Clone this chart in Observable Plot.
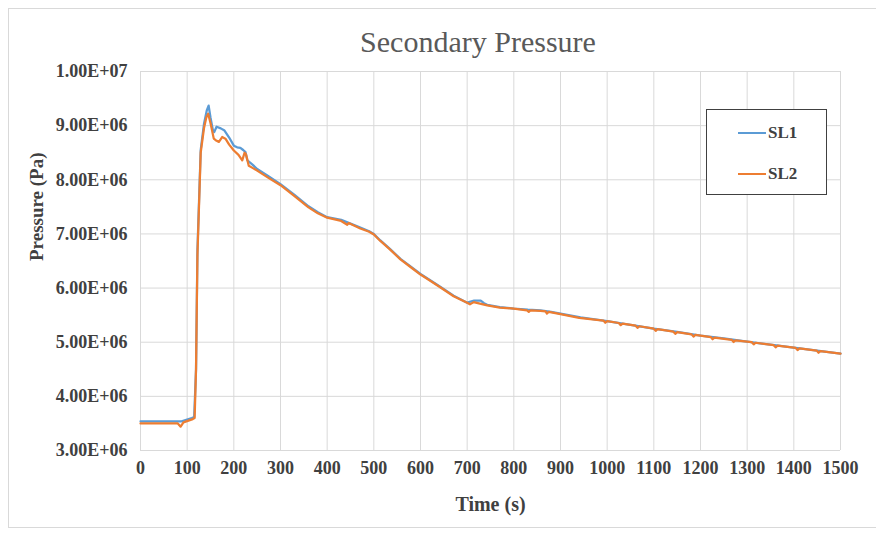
<!DOCTYPE html>
<html>
<head>
<meta charset="utf-8">
<script src="https://cdn.jsdelivr.net/npm/d3@7"></script>
<script src="https://cdn.jsdelivr.net/npm/@observablehq/plot@0.6"></script>
<style>
  html, body { margin: 0; padding: 0; background: #fff; }
  #wrap { position: relative; width: 876px; height: 533px; overflow: hidden; }
  #frame { position: absolute; left: 8px; top: 8px; width: 900px; height: 520px; border: 1px solid #d9d9d9; box-sizing: border-box; }
  #chart { position: absolute; left: 0; top: 0; }
  #title { position: absolute; left: 0; width: 956px; top: 24px; text-align: center; font-family: "Liberation Serif", "Times New Roman", serif; font-size: 30px; color: #595959; line-height: 36px; white-space: nowrap; }
  #legend { position: absolute; left: 706px; top: 109px; width: 121px; height: 86px; border: 1px solid #404040; box-sizing: border-box; background: #fff; font-family: "Liberation Serif", serif; font-weight: bold; font-size: 17px; color: #404040; }
  .item { position: absolute; left: 31px; height: 20px; display: flex; align-items: center; }
  .swatch { width: 28px; height: 2px; margin-right: 2px; }
</style>
</head>
<body>
<div id="wrap">
  <div id="frame"></div>
  <div id="chart"></div>
  <div id="title"></div>
  <div id="legend"></div>
</div>
<script>
// ---- Data (pressure in units of 1e6 Pa, time in s) ----
const seriesNames = ["SL1", "SL2"];
const seriesColors = ["#5B9BD5", "#ED7D31"];

const time1 = [0, 80, 88, 110, 115, 119, 122, 129, 136, 142, 146, 150, 155, 158, 163, 172, 180, 190, 200, 207, 214, 220, 225, 229, 240, 250, 275, 300, 330, 360, 380, 400, 430, 450, 471, 490, 500, 514, 535, 557, 580, 600, 620, 643, 671, 700, 715, 729, 736, 743, 770, 800, 830, 857, 880, 900, 943, 1000, 1050, 1100, 1150, 1200, 1250, 1300, 1350, 1400, 1450, 1500];
const sl1 = [3.54, 3.54, 3.54, 3.60, 3.62, 4.5, 6.7, 8.55, 9.03, 9.28, 9.37, 9.15, 8.92, 8.88, 8.98, 8.95, 8.91, 8.78, 8.63, 8.60, 8.59, 8.55, 8.51, 8.36, 8.28, 8.20, 8.06, 7.92, 7.72, 7.51, 7.40, 7.31, 7.26, 7.19, 7.12, 7.05, 7.00, 6.88, 6.72, 6.54, 6.39, 6.26, 6.15, 6.02, 5.86, 5.73, 5.77, 5.77, 5.72, 5.69, 5.65, 5.62, 5.60, 5.59, 5.56, 5.53, 5.46, 5.39, 5.32, 5.25, 5.19, 5.12, 5.07, 5.01, 4.955, 4.90, 4.845, 4.79];

const time2 = [0, 80, 86, 92, 112, 116, 119, 122, 129, 136, 141, 145, 150, 157, 163, 168, 175, 182, 190, 200, 210, 218, 223, 226, 232, 240, 250, 275, 300, 330, 360, 380, 400, 430, 443, 446, 471, 490, 500, 514, 535, 557, 580, 600, 620, 643, 671, 700, 706, 714, 743, 770, 800, 828, 832, 836, 857, 868, 871, 875, 900, 940, 992, 996, 1000, 1025, 1029, 1033, 1061, 1065, 1069, 1100, 1104, 1108, 1142, 1146, 1150, 1181, 1185, 1189, 1222, 1226, 1230, 1267, 1271, 1275, 1310, 1314, 1318, 1357, 1361, 1365, 1404, 1408, 1412, 1449, 1453, 1457, 1500];
const sl2 = [3.50, 3.50, 3.44, 3.52, 3.58, 3.60, 4.5, 6.6, 8.5, 8.95, 9.15, 9.22, 9.05, 8.76, 8.72, 8.70, 8.79, 8.76, 8.65, 8.54, 8.46, 8.36, 8.50, 8.47, 8.26, 8.22, 8.17, 8.03, 7.90, 7.70, 7.49, 7.38, 7.30, 7.24, 7.17, 7.20, 7.10, 7.04, 6.99, 6.87, 6.71, 6.53, 6.38, 6.25, 6.14, 6.01, 5.85, 5.73, 5.70, 5.74, 5.68, 5.64, 5.62, 5.59, 5.56, 5.59, 5.58, 5.57, 5.53, 5.56, 5.52, 5.45, 5.40, 5.36, 5.39, 5.355, 5.315, 5.345, 5.305, 5.265, 5.295, 5.25, 5.21, 5.24, 5.195, 5.155, 5.185, 5.145, 5.105, 5.135, 5.095, 5.055, 5.085, 5.045, 5.005, 5.035, 5.0, 4.96, 4.99, 4.945, 4.905, 4.935, 4.895, 4.855, 4.885, 4.845, 4.805, 4.835, 4.79];

const xTicks = [0, 100, 200, 300, 400, 500, 600, 700, 800, 900, 1000, 1100, 1200, 1300, 1400, 1500];
const xTickLabels = ["0", "100", "200", "300", "400", "500", "600", "700", "800", "900", "1000", "1100", "1200", "1300", "1400", "1500"];
const yTicks = [3, 4, 5, 6, 7, 8, 9, 10];
const yTickLabels = ["3.00E+06", "4.00E+06", "5.00E+06", "6.00E+06", "7.00E+06", "8.00E+06", "9.00E+06", "1.00E+07"];

const titleText = "Secondary Pressure";
const xLabel = "Time (s)";
const yLabel = "Pressure (Pa)";

// ---- Chart ----
const serif = "Liberation Serif";
const gridColor = "#d9d9d9";
const textColor = "#404040";

const chart = Plot.plot({
  width: 876,
  height: 533,
  marginLeft: 140,
  marginRight: 36,
  marginTop: 71,
  marginBottom: 83,
  style: { fontFamily: "'Liberation Serif', serif", background: "transparent", overflow: "visible" },
  x: { domain: [0, 1500] },
  y: { domain: [3, 10] },
  marks: [
    Plot.gridX(xTicks, { stroke: gridColor, strokeOpacity: 1, strokeWidth: 1 }),
    Plot.gridY(yTicks, { stroke: gridColor, strokeOpacity: 1, strokeWidth: 1 }),
    Plot.axisX({ ticks: xTicks, tickSize: 0, tickPadding: 11, label: null,
      tickFormat: d => xTickLabels[xTicks.indexOf(d)],
      fontSize: 18, fontWeight: "bold", fontFamily: serif, fill: textColor }),
    Plot.axisY({ ticks: yTicks, tickSize: 0, tickPadding: 13, label: null,
      tickFormat: d => yTickLabels[yTicks.indexOf(d)],
      fontSize: 18, fontWeight: "bold", fontFamily: serif, fill: textColor }),
    Plot.line(time1, { x: time1, y: sl1, stroke: seriesColors[0], strokeWidth: 2.25 }),
    Plot.line(time2, { x: time2, y: sl2, stroke: seriesColors[1], strokeWidth: 2.25 }),
    Plot.text([xLabel], { frameAnchor: "bottom", dy: 60, fontSize: 20, fontWeight: "bold",
      fontFamily: serif, fill: textColor }),
    Plot.text([yLabel], { frameAnchor: "left", dx: -104, rotate: -90, fontSize: 19, fontWeight: "bold",
      fontFamily: serif, fill: textColor })
  ]
});
document.getElementById("chart").appendChild(chart);

document.getElementById("title").textContent = titleText;

// ---- Legend ----
const legend = document.getElementById("legend");
seriesNames.forEach((name, i) => {
  const item = document.createElement("div");
  item.className = "item";
  item.style.top = (13 + i * 41) + "px";
  const sw = document.createElement("div");
  sw.className = "swatch";
  sw.style.background = seriesColors[i];
  const label = document.createElement("span");
  label.textContent = name;
  item.appendChild(sw);
  item.appendChild(label);
  legend.appendChild(item);
});
</script>
</body>
</html>
